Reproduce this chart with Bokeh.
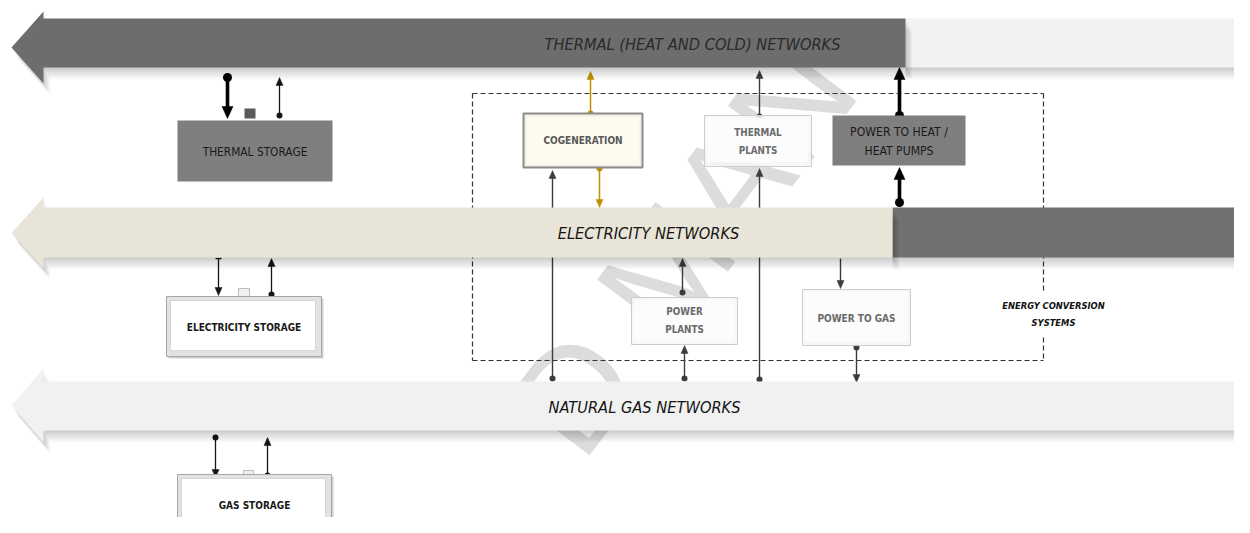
import math
from bokeh.plotting import figure
from bokeh.models import Range1d
from bokeh.core.properties import value
from bokeh.embed import file_html
from bokeh.resources import INLINE

FONT = value("DejaVu Sans Condensed")
WM_FONT = value("Liberation Sans")

W_PX, H_PX = 1234, 517

# ---------------- network bands (big left-pointing arrows) ----------------
net_labels = ["THERMAL (HEAT AND COLD) NETWORKS", "ELECTRICITY NETWORKS", "NATURAL GAS NETWORKS"]
net_top = [18, 207, 381]
net_bottom = [67, 257, 430]
net_head_top = [11, 197, 368]
net_head_bottom = [83, 268, 442]
net_split = [905, 892, 1260]
net_fill = ["#6d6d6d", "#e8e4d7", "#f1f1f1"]
net_tail_fill = ["#f2f2f2", "#717171", "#f1f1f1"]
net_text_color = ["#2a2a2a", "#151515", "#151515"]
net_label_x = [692, 648, 644]

# ---------------- boxes ----------------
box_labels = ["THERMAL STORAGE", "ELECTRICITY STORAGE", "GAS STORAGE", "COGENERATION",
              "THERMAL\nPLANTS", "POWER TO HEAT /\nHEAT PUMPS", "POWER\nPLANTS", "POWER TO GAS"]
box_left = [177, 166, 177, 523, 704, 832, 631, 802]
box_right = [332, 321, 331, 642, 811, 965, 737, 910]
box_top = [120, 296, 474, 113, 115, 115, 297, 289]
box_bottom = [181, 356, 545, 167, 166, 165, 344, 345]
box_label_y = [151, 327, 505, 140, 141, 141, 320, 318]
box_style = ["dark", "bevel", "bevel", "cream", "light", "dark", "light", "light"]
box_font_size = [11.8, 10, 10, 10, 9.8, 12.1, 9.8, 10]
box_line_height = [1.2, 1.2, 1.2, 1.2, 1.58, 1.42, 1.58, 1.2]
box_bold = [False, True, True, True, True, False, True, True]
box_text_color = ["#1a1a1a", "#1a1a1a", "#1a1a1a", "#595959", "#6a6a6a", "#1a1a1a", "#6a6a6a", "#6a6a6a"]

# ---------------- flows (vertical connectors) ----------------
flow_x = [227, 279, 218, 271, 215, 267, 590, 599, 552, 759, 759, 899, 899, 682, 684, 840, 856]
flow_from = [77, 115, 258, 294, 437, 475, 113, 168, 378, 116, 379, 115, 202, 292, 378, 258, 347]
flow_to = [118, 77, 295, 258, 477, 437, 71, 207, 170, 70, 168, 67, 167, 258, 345, 288, 382]
flow_kind = ["thick", "thin", "thin_tee", "thin", "thin", "thin", "gold", "gold", "mid", "mid",
             "mid", "thick", "thick", "mid", "mid", "mid_nodot", "mid"]

# ---------------- energy conversion frame ----------------
frame_left, frame_right, frame_top, frame_bottom = 472, 1043, 93, 360
frame_gap = (290, 337)
frame_label = ["ENERGY CONVERSION", "SYSTEMS"]

watermark = "ACCEPTED MANUSCRIPT"

p = figure(width=W_PX, height=H_PX, x_range=Range1d(0, W_PX), y_range=Range1d(H_PX, 0),
           output_backend="svg", toolbar_location=None, min_border=0,
           x_axis_type=None, y_axis_type=None)
p.grid.visible = False
p.outline_line_color = None
p.background_fill_color = "white"
p.border_fill_color = "white"

# watermark: letters laid along a diagonal; only letters that fit fully inside are drawn
adv = {"A": .667, "C": .722, "E": .667, "P": .667, "T": .611, "D": .722, " ": .278, "M": .833,
       "N": .722, "U": .722, "S": .667, "R": .722, "I": .278}
wm_fs, wm_ang = 145, 53
wm_cx, wm_cy = 668, 267
ux, uy = math.cos(math.radians(wm_ang)), -math.sin(math.radians(wm_ang))
total = sum(adv[c] for c in watermark)
cum = 0.0
wm_x, wm_y, wm_t = [], [], []
for ch in watermark:
    off = (cum + adv[ch] / 2 - total / 2) * wm_fs
    cum += adv[ch]
    if ch == " ":
        continue
    cx, cy = wm_cx + off * ux, wm_cy + off * uy
    hw, hh = adv[ch] * wm_fs / 2, 0.6 * wm_fs
    ex = hw * abs(ux) + hh * abs(uy)
    ey = hw * abs(uy) + hh * abs(ux)
    if cx - ex > 2 and cx + ex < W_PX - 2 and cy - ey > 2 and cy + ey < H_PX - 2:
        wm_x.append(cx)
        wm_y.append(cy)
        wm_t.append(ch)
p.text(x=wm_x, y=wm_y, text=wm_t, angle=wm_ang, angle_units="deg",
       text_font=WM_FONT, text_font_size=f"{wm_fs}px", text_color="#dcdcdc",
       text_align="center", text_baseline="middle")

# dashed frame
fx0 = [frame_left, frame_left, frame_left, frame_right, frame_right]
fy0 = [frame_top, frame_top, frame_bottom, frame_top, frame_gap[1]]
fx1 = [frame_right, frame_left, frame_right, frame_right, frame_right]
fy1 = [frame_top, frame_bottom, frame_bottom, frame_gap[0], frame_bottom]
p.segment(x0=fx0, y0=fy0, x1=fx1, y1=fy1, line_color="#333333", line_width=1.2, line_dash="5 3")
p.text(x=[1053, 1053], y=[305, 322], text=frame_label, text_font=FONT, text_font_size="9.3px",
       text_font_style="bold italic", text_color="#111111", text_align="center", text_baseline="middle")

# flows
styles = {
    "thick": dict(color="#000000", w=3.6, hw=11, hh=12, dot=9),
    "thin": dict(color="#151515", w=1.3, hw=7, hh=8, dot=6),
    "thin_tee": dict(color="#151515", w=1.3, hw=7, hh=8, dot=0),
    "gold": dict(color="#c09000", w=1.5, hw=7, hh=8, dot=6),
    "mid": dict(color="#3c3c3c", w=1.4, hw=7, hh=8, dot=6),
    "mid_nodot": dict(color="#3c3c3c", w=1.4, hw=7, hh=8, dot=0),
}
for x, y0, y1, kind in zip(flow_x, flow_from, flow_to, flow_kind):
    s = styles[kind]
    d = 1 if y1 > y0 else -1
    p.segment(x0=[x], y0=[y0], x1=[x], y1=[y1 - d * s["hh"] * 0.6], line_color=s["color"], line_width=s["w"])
    p.patch(x=[x - s["hw"] / 2, x + s["hw"] / 2, x], y=[y1 - d * s["hh"], y1 - d * s["hh"], y1],
            fill_color=s["color"], line_color=s["color"], line_width=0.5)
    if s["dot"]:
        p.scatter(x=[x], y=[y0], size=s["dot"], marker="circle", fill_color=s["color"], line_color=None)
    if kind == "thin_tee":
        p.segment(x0=[x - 3], y0=[y0], x1=[x + 3], y1=[y0], line_color=s["color"], line_width=1.5)

# network bands
for i in range(3):
    top, bot = net_top[i], net_bottom[i]
    ht, hb = net_head_top[i], net_head_bottom[i]
    mid = (ht + hb) / 2
    split = net_split[i]
    if split < 1250:
        for k in range(1, 11):
            p.quad(left=[split], right=[1260], top=[top + k * 1.2], bottom=[bot + k * 1.2],
                   fill_color="black", fill_alpha=0.02, line_color=None)
        p.quad(left=[split], right=[1260], top=[top], bottom=[bot], fill_color=net_tail_fill[i], line_color=None)
    xs = [11, 43, 43, split, split, 43, 43]
    ys = [mid, ht, top, top, bot, bot, hb]
    for k in range(1, 11):
        p.patch(x=[v + k * 0.7 for v in xs], y=[v + k * 1.2 for v in ys],
                fill_color="black", fill_alpha=0.02, line_color=None)
    p.patch(x=xs, y=ys, fill_color=net_fill[i], line_color=None)
    p.text(x=[net_label_x[i]], y=[(top + bot) / 2 + 1], text=[net_labels[i]], text_font=FONT,
           text_font_size="16.3px", text_font_style="italic", text_color=net_text_color[i],
           text_align="center", text_baseline="middle")

# small square near thermal storage
p.quad(left=[244], right=[255], top=[108], bottom=[118], fill_color="#5a5a5a", line_color=None)
# small icons near electricity / gas storage
p.quad(left=[238, 243], right=[249, 253], top=[288, 470], bottom=[298, 479],
       fill_color="#f0f0f0", line_color="#bdbdbd", line_width=1)

# boxes
for lab, l, r, t, b, ly, st, fs, lh, bold, tc in zip(box_labels, box_left, box_right, box_top, box_bottom,
                                                      box_label_y, box_style, box_font_size, box_line_height,
                                                      box_bold, box_text_color):
    if st == "dark":
        p.quad(left=[l], right=[r], top=[t], bottom=[b], fill_color="#7f7f7f", line_color=None)
    elif st == "bevel":
        p.quad(left=[l + 2], right=[r + 2], top=[t + 2], bottom=[b + 2], fill_color="#d0d0d0", line_color=None)
        p.quad(left=[l], right=[r], top=[t], bottom=[b], fill_color="#e2e2e2", line_color="#a6a6a6", line_width=1)
        p.quad(left=[l + 4], right=[r - 6], top=[t + 4], bottom=[b - 6], fill_color="#ffffff",
               line_color="#d6d6d6", line_width=1)
    elif st == "cream":
        p.quad(left=[l], right=[r], top=[t], bottom=[b], fill_color="#f3efe4", line_color="#8c8c8c", line_width=2)
        p.quad(left=[l + 3], right=[r - 3], top=[t + 3], bottom=[b - 3], fill_color="#fdfaf0", line_color=None)
    else:
        p.quad(left=[l], right=[r], top=[t], bottom=[b], fill_color="#f6f6f6", fill_alpha=0.85,
               line_color="#cdcdcd", line_width=1)
        p.quad(left=[l + 2], right=[r - 3], top=[t + 2], bottom=[b - 4], fill_color="#fcfcfc", fill_alpha=0.8,
               line_color=None)
    p.text(x=[(l + r) / 2], y=[ly], text=[lab], text_font=FONT,
           text_font_size=f"{fs}px", text_font_style="bold" if bold else "normal", text_color=tc,
           text_align="center", text_baseline="middle", text_line_height=lh)

open("out.html", "w").write(file_html(p, INLINE))
